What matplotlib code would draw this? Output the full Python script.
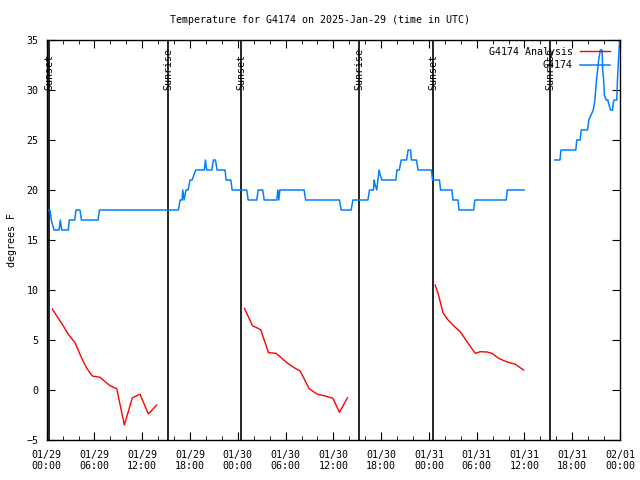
import numpy as np
import pandas as pd
import matplotlib
matplotlib.use("Agg")
import matplotlib.pyplot as plt
import matplotlib.dates as mdates

plt.rcParams['font.family'] = ['DejaVu Sans Mono']
plt.rcParams['font.size'] = 7.2

# hours after 2025-01-29 00:00 UTC, observed temperature (F); nan = gap
obs_hours = [0.16, 0.41, 0.58, 0.92, 1.55, 1.71, 1.88, 2.71, 2.84, 3.52, 3.68, 4.18, 4.37,
             6.45, 6.63, 16.54, 16.75, 17.0, 17.09, 17.25, 17.5, 17.75, 18.0, 18.26, 18.72,
             19.8, 19.93, 20.1, 20.73, 20.94, 21.19, 21.4, 22.4, 22.53, 23.12, 23.29, 24.29,
             25.13, 25.3, 26.39, 26.55, 27.14, 27.31, 28.9, 29.03, 29.15, 29.28, 29.53, 32.33,
             32.52, 36.77, 36.98, 38.24, 38.45, 40.34, 40.54, 41.04, 41.12, 41.25, 41.46, 41.59,
             41.75, 41.88, 42.09, 43.86, 43.98, 44.28, 44.52, 45.19, 45.39, 45.69, 45.81, 46.44,
             46.64, 48.32, 48.45, 49.33, 49.46, 50.89, 51.02, 51.65, 51.78, 53.62, 53.77, 57.71,
             57.84, 59.97, 60.0,
             63.8, 64.46, 64.59, 66.45, 66.57, 67.0, 67.13, 67.92, 68.09, 68.25, 68.64, 68.85,
             68.94, 69.05, 69.19, 69.32, 69.54, 69.75, 69.82, 69.95, 70.04, 70.26, 70.47, 70.56,
             70.81, 71.07, 71.14, 71.26, 71.6, 71.68, 71.81, 71.99]
obs_temps = [18, 18, 17, 16, 16, 17, 16, 16, 17, 17, 18, 18, 17,
             17, 18, 18, 19, 19, 20, 19, 20, 20, 21, 21, 22,
             22, 23, 22, 22, 23, 23, 22, 22, 21, 21, 20, 20,
             20, 19, 19, 20, 20, 19, 19, 20, 19, 20, 20, 20,
             19, 19, 18, 18, 19, 19, 20, 20, 21, 20.5, 20, 21,
             22, 21.5, 21, 21, 22, 22, 23, 23, 24, 24, 23, 23,
             22, 22, 21, 21, 20, 20, 19, 19, 18, 18, 19, 19,
             20, 20, np.nan,
             23, 23, 24, 24, 25, 25, 26, 26, 27, 27.3, 28, 29,
             30, 31, 32, 33, 34, 34, 32, 31, 29.5, 29, 29, 28.7,
             28, 28, 28.7, 29, 29, 31, 33, 35.5]

# analysis series (three overnight runs)
ana_hours = [0.70, 1.46, 2.09, 2.71, 3.56, 4.40, 5.03, 5.73, 6.70, 7.33, 7.96, 8.80, 9.75,
             10.76, 11.72, 12.77, 13.82, np.nan,
             24.83, 25.33, 25.84, 26.39, 26.89, 27.85, 28.81, 29.53, 30.16, 30.99, 31.83,
             32.96, 34.0, 34.97, 35.94, 36.77, 37.77, np.nan,
             48.79, 49.21, 49.76, 50.34, 51.09, 51.94, 52.78, 53.82, 54.45, 55.29, 55.92,
             56.75, 57.72, 58.85, 59.89]
ana_temps = [8.1, 7.17, 6.4, 5.57, 4.73, 3.17, 2.17, 1.4, 1.27, 0.83, 0.43, 0.13, -3.5,
             -0.77, -0.43, -2.4, -1.5, np.nan,
             8.17, 7.33, 6.43, 6.23, 6.0, 3.73, 3.67, 3.17, 2.73, 2.27, 1.9,
             0.13, -0.43, -0.6, -0.83, -2.23, -0.77, np.nan,
             10.5, 9.5, 7.73, 7.07, 6.43, 5.83, 4.83, 3.67, 3.83, 3.8, 3.67,
             3.17, 2.83, 2.57, 2.0]

sunset_hours = [0.33, 24.42, 48.54]
sunrise_hours = [15.28, 39.24, 63.24]

base = pd.Timestamp("2025-01-29 00:00")


def to_time(hours):
    hours = np.asarray(hours, dtype=float)
    out = base + pd.to_timedelta(np.nan_to_num(hours), unit="h")
    return out.to_numpy()


obs_t = to_time(obs_hours)
obs_y = np.array(obs_temps, dtype=float)
obs_y[np.isnan(np.asarray(obs_hours, dtype=float))] = np.nan
ana_t = to_time(ana_hours)
ana_y = np.array(ana_temps, dtype=float)

fig = plt.figure(figsize=(6.4, 4.8), dpi=100)
ax = fig.add_axes([46.7 / 640, 40 / 480, (620 - 46.7) / 640, 400 / 480])

for h in sunset_hours + sunrise_hours:
    ax.axvline(to_time([h])[0], color="black", lw=1.2)
for h in sunset_hours:
    ax.text(to_time([h])[0], 30, "Sunset", rotation=90, ha="center", va="bottom")
for h in sunrise_hours:
    ax.text(to_time([h])[0], 30, "Sunrise", rotation=90, ha="center", va="bottom")

ax.plot(ana_t, ana_y, color="#ff0000", lw=1, label="G4174 Analysis")
ax.plot(obs_t, obs_y, color="#0080ff", lw=1.1, label="G4174")

ax.set_xlim(base, base + pd.Timedelta(hours=72))
ax.set_ylim(-5, 35)
ax.xaxis.set_major_locator(mdates.HourLocator(byhour=[0, 6, 12, 18]))
ax.xaxis.set_minor_locator(mdates.HourLocator(byhour=range(0, 24, 2)))
ax.xaxis.set_major_formatter(mdates.DateFormatter("%m/%d\n%H:%M"))
ax.set_yticks(range(-5, 40, 5))
ax.tick_params(which="both", direction="in", top=True, right=True, labelsize=7.2)
ax.tick_params(which="major", length=6, pad=7)
ax.tick_params(axis="y", which="major", pad=6)
ax.tick_params(which="minor", length=3)
for s in ax.spines.values():
    s.set_linewidth(1.0)

ax.set_ylabel("degrees F", labelpad=7)
fig.suptitle("Temperature for G4174 on 2025-Jan-29 (time in UTC)", y=0.968, fontsize=7.2)

ax.legend(loc="upper right", bbox_to_anchor=(0.994, 1.0), frameon=False, markerfirst=False,
          handlelength=3.0, handletextpad=0.7, labelspacing=0.35, borderaxespad=0.3)

fig.savefig("out.png", dpi=100)
